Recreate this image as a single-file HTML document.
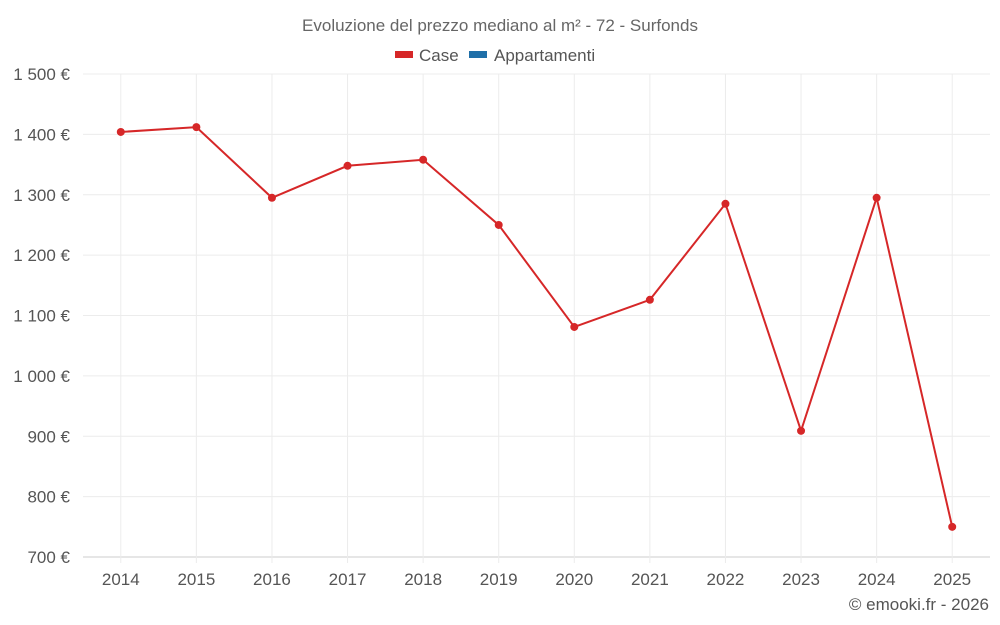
<!DOCTYPE html>
<html><head><meta charset="utf-8">
<style>
html,body{margin:0;padding:0;background:#fff;}
svg{display:block;font-family:"Liberation Sans",sans-serif;}
</style></head>
<body>
<svg id="chart" width="1000" height="625" viewBox="0 0 1000 625" xmlns="http://www.w3.org/2000/svg">
<text x="500" y="31" text-anchor="middle" font-size="17" fill="#666">Evoluzione del prezzo mediano al m² - 72 - Surfonds</text>
<g>
<g><rect x="395" y="51" width="18" height="7" fill="#d62728"/><text x="419" y="61" font-size="17" fill="#555">Case</text></g>
<g><rect x="469" y="51" width="18" height="7" fill="#1f6fa8"/><text x="494" y="61" font-size="17" fill="#555">Appartamenti</text></g>
</g>
<g id="grid"></g>
<g id="yaxis"></g>
<g id="xaxis"></g>
<g id="series"></g>
<text x="989" y="610" text-anchor="end" font-size="17" fill="#555">© emooki.fr - 2026</text>
</svg>
<script>
const years = ["2014","2015","2016","2017","2018","2019","2020","2021","2022","2023","2024","2025"];
const caseValues = [1404,1412,1295,1348,1358,1250,1081,1126,1285,909,1295,750];
const yTicks = [700,800,900,1000,1100,1200,1300,1400,1500];
const yTickLabels = ["700 €","800 €","900 €","1 000 €","1 100 €","1 200 €","1 300 €","1 400 €","1 500 €"];

(function(){
const NS="http://www.w3.org/2000/svg";
const pL=83,pR=990,pT=74,pB=557,yMin=700,yMax=1500;
const band=(pR-pL)/years.length;
const xS=i=>pL+band*(i+0.5);
const yS=v=>pB-(v-yMin)/(yMax-yMin)*(pB-pT);
function mk(tag,attrs,parent){const e=document.createElementNS(NS,tag);for(const k in attrs)e.setAttribute(k,attrs[k]);parent.appendChild(e);return e;}
const grid=document.getElementById('grid'),ya=document.getElementById('yaxis'),xa=document.getElementById('xaxis'),ser=document.getElementById('series');
yTicks.forEach((t,i)=>{
  const g=mk('line',{x1:pL,x2:pR,y1:yS(t),y2:yS(t),stroke:t===yMin?'#ccc':'#ececec','stroke-width':1},grid);
  
  
  const tx=mk('text',{x:70,y:yS(t)+6,'text-anchor':'end','font-size':17,fill:'#555'},ya);
  tx.textContent=yTickLabels[i];
  
  
});
years.forEach((y,i)=>{
  const g=mk('line',{x1:xS(i),x2:xS(i),y1:pT,y2:pB+6,stroke:'#ececec','stroke-width':1},grid);
  
  
  const tx=mk('text',{x:xS(i),y:585,'text-anchor':'middle','font-size':17,fill:'#555'},xa);
  tx.textContent=y;
  
  
});
const pl=mk('polyline',{points:caseValues.map((v,i)=>xS(i)+','+yS(v)).join(' '),fill:'none',stroke:'#d62728','stroke-width':2},ser);


caseValues.forEach((v,i)=>{
  const c=mk('circle',{cx:xS(i),cy:yS(v),r:4,fill:'#d62728'},ser);
  
  
});
})();
</script>
</body></html>
